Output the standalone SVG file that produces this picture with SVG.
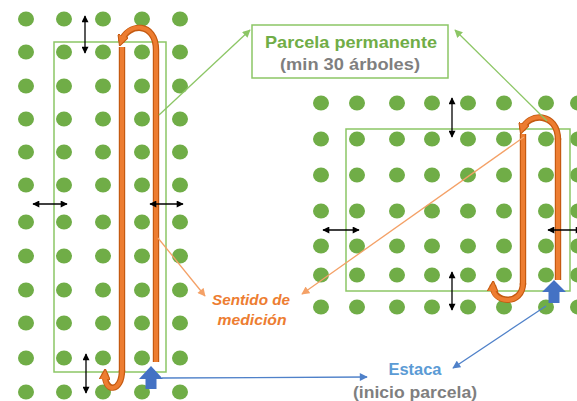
<svg xmlns="http://www.w3.org/2000/svg" width="577" height="401" viewBox="0 0 577 401">
<style>
.dot{fill:#70AD47}
.plot{fill:none;stroke:#8CC665;stroke-width:1.5}
.thick{fill:none;stroke:#C55A11;stroke-width:6.4}
.thickin{fill:none;stroke:#ED7D31;stroke-width:4}
.dim{stroke:#000;stroke-width:1.3;marker-start:url(#blk);marker-end:url(#blk)}
.gline{stroke:#8CC665;stroke-width:1.3;fill:none;marker-end:url(#gah)}
.oline{stroke:#F4A167;stroke-width:1.3;fill:none;marker-end:url(#oah)}
.bline{stroke:#4F81C9;stroke-width:1.3;fill:none;marker-end:url(#bah)}
.t{font-family:"Liberation Sans",Arial,sans-serif;font-weight:bold;text-anchor:middle}
</style>
<defs>
<marker id="blk" viewBox="0 0 10 10" refX="9" refY="5" markerWidth="8" markerHeight="7" orient="auto-start-reverse" markerUnits="userSpaceOnUse"><path d="M0,0 L10,5 L0,10 z" fill="#000"/></marker>
<marker id="gah" viewBox="0 0 10 10" refX="9" refY="5" markerWidth="9" markerHeight="8" orient="auto" markerUnits="userSpaceOnUse"><path d="M0,0 L10,5 L0,10 z" fill="#8CC665"/></marker>
<marker id="oah" viewBox="0 0 10 10" refX="9" refY="5" markerWidth="9" markerHeight="8" orient="auto" markerUnits="userSpaceOnUse"><path d="M0,0 L10,5 L0,10 z" fill="#F4A167"/></marker>
<marker id="bah" viewBox="0 0 10 10" refX="9" refY="5" markerWidth="9" markerHeight="8" orient="auto" markerUnits="userSpaceOnUse"><path d="M0,0 L10,5 L0,10 z" fill="#4F81C9"/></marker>
<marker id="oth" viewBox="0 0 10 10" refX="6" refY="5" markerWidth="11" markerHeight="11" orient="auto" markerUnits="userSpaceOnUse"><path d="M0,0 L10,5 L0,10 z" fill="#ED7D31" stroke="#C55A11" stroke-width="1"/></marker>
<ellipse id="d" rx="8" ry="7.6"/>
</defs>
<rect width="577" height="401" fill="#fff"/>

<g id="grid-left" class="dot">
<use href="#d" x="26" y="19"/><use href="#d" x="64" y="19"/><use href="#d" x="103" y="19"/><use href="#d" x="142" y="19"/><use href="#d" x="180" y="19"/>
<use href="#d" x="26" y="52"/><use href="#d" x="64" y="52"/><use href="#d" x="103" y="52"/><use href="#d" x="142" y="52"/><use href="#d" x="180" y="52"/>
<use href="#d" x="26" y="86"/><use href="#d" x="64" y="86"/><use href="#d" x="103" y="86"/><use href="#d" x="142" y="86"/><use href="#d" x="180" y="86"/>
<use href="#d" x="26" y="119"/><use href="#d" x="64" y="119"/><use href="#d" x="103" y="119"/><use href="#d" x="142" y="119"/><use href="#d" x="180" y="119"/>
<use href="#d" x="26" y="152"/><use href="#d" x="64" y="152"/><use href="#d" x="103" y="152"/><use href="#d" x="142" y="152"/><use href="#d" x="180" y="152"/>
<use href="#d" x="26" y="185"/><use href="#d" x="64" y="185"/><use href="#d" x="103" y="185"/><use href="#d" x="142" y="185"/><use href="#d" x="180" y="185"/>
<use href="#d" x="26" y="222"/><use href="#d" x="64" y="222"/><use href="#d" x="103" y="222"/><use href="#d" x="142" y="222"/><use href="#d" x="180" y="222"/>
<use href="#d" x="26" y="256"/><use href="#d" x="64" y="256"/><use href="#d" x="103" y="256"/><use href="#d" x="142" y="256"/><use href="#d" x="180" y="256"/>
<use href="#d" x="26" y="290"/><use href="#d" x="64" y="290"/><use href="#d" x="103" y="290"/><use href="#d" x="142" y="290"/><use href="#d" x="180" y="290"/>
<use href="#d" x="26" y="323"/><use href="#d" x="64" y="323"/><use href="#d" x="103" y="323"/><use href="#d" x="142" y="323"/><use href="#d" x="180" y="323"/>
<use href="#d" x="26" y="358"/><use href="#d" x="64" y="358"/><use href="#d" x="103" y="358"/><use href="#d" x="142" y="358"/><use href="#d" x="180" y="358"/>
<use href="#d" x="26" y="392"/><use href="#d" x="64" y="392"/><use href="#d" x="103" y="392"/><use href="#d" x="142" y="392"/><use href="#d" x="180" y="392"/>
</g>

<g id="grid-right" class="dot">
<use href="#d" x="321" y="103"/><use href="#d" x="357" y="103"/><use href="#d" x="397" y="103"/><use href="#d" x="432" y="103"/><use href="#d" x="468" y="103"/><use href="#d" x="504" y="103"/><use href="#d" x="546" y="103"/><use href="#d" x="578" y="103"/>
<use href="#d" x="321" y="139"/><use href="#d" x="357" y="139"/><use href="#d" x="397" y="139"/><use href="#d" x="432" y="139"/><use href="#d" x="468" y="139"/><use href="#d" x="504" y="139"/><use href="#d" x="546" y="139"/><use href="#d" x="578" y="139"/>
<use href="#d" x="321" y="175"/><use href="#d" x="357" y="175"/><use href="#d" x="397" y="175"/><use href="#d" x="432" y="175"/><use href="#d" x="468" y="175"/><use href="#d" x="504" y="175"/><use href="#d" x="546" y="175"/><use href="#d" x="578" y="175"/>
<use href="#d" x="321" y="211"/><use href="#d" x="357" y="211"/><use href="#d" x="397" y="211"/><use href="#d" x="432" y="211"/><use href="#d" x="468" y="211"/><use href="#d" x="504" y="211"/><use href="#d" x="546" y="211"/><use href="#d" x="578" y="211"/>
<use href="#d" x="321" y="246"/><use href="#d" x="357" y="246"/><use href="#d" x="397" y="246"/><use href="#d" x="432" y="246"/><use href="#d" x="468" y="246"/><use href="#d" x="504" y="246"/><use href="#d" x="546" y="246"/><use href="#d" x="578" y="246"/>
<use href="#d" x="321" y="275"/><use href="#d" x="357" y="275"/><use href="#d" x="397" y="275"/><use href="#d" x="432" y="275"/><use href="#d" x="468" y="275"/><use href="#d" x="504" y="275"/><use href="#d" x="546" y="275"/><use href="#d" x="578" y="275"/>
<use href="#d" x="321" y="307"/><use href="#d" x="357" y="307"/><use href="#d" x="397" y="307"/><use href="#d" x="432" y="307"/><use href="#d" x="468" y="307"/><use href="#d" x="504" y="307"/><use href="#d" x="546" y="307"/><use href="#d" x="578" y="307"/>
</g>

<g id="plot-left">
<rect class="plot" x="54" y="42" width="112" height="330"/>
</g>
<g id="plot-right">
<rect class="plot" x="346" y="129" width="224" height="162"/>
</g>

<g id="path-left">
<path class="thick" d="M156,362 L156,50 M122,47 L122,372"/>
<path class="thickin" d="M156,362 L156,50 M122,47 L122,372"/>
<path class="thick" d="M156,50 C156,22 128,22 121,42" marker-end="url(#oth)"/>
<path class="thickin" d="M156,50 C156,22 128,22 122,40"/>
<path class="thick" d="M122,370 C122,393 104,393 105,373" marker-end="url(#oth)"/>
<path class="thickin" d="M122,370 C122,393 104,393 105,375"/>
</g>
<g id="path-right">
<path class="thick" d="M558,280 L558,138 M523,134 L523,285"/>
<path class="thickin" d="M558,280 L558,138 M523,134 L523,285"/>
<path class="thick" d="M558,140 C558,112 528,112 522,130" marker-end="url(#oth)"/>
<path class="thickin" d="M558,140 C558,112 528,112 523,128"/>
<path class="thick" d="M523,283 C523,306 492,304 493,285" marker-end="url(#oth)"/>
<path class="thickin" d="M523,283 C523,306 492,304 493,287"/>
</g>

<g id="stake-left"><polygon points="151,366 163,379 156.5,379 156.5,389 145.5,389 145.5,379 139,379" fill="#4472C4"/></g>
<g id="stake-right"><polygon points="554,280 566,292 559.5,292 559.5,303 548.5,303 548.5,292 542,292" fill="#4472C4"/></g>

<g id="spacing">
<line class="dim" x1="85" y1="16" x2="85" y2="53"/>
<line class="dim" x1="33" y1="204" x2="67" y2="204"/>
<line class="dim" x1="150" y1="204" x2="183" y2="204"/>
<line class="dim" x1="86" y1="354" x2="86" y2="393"/>
<line class="dim" x1="452" y1="98" x2="452" y2="137"/>
<line class="dim" x1="452" y1="272" x2="452" y2="310"/>
<line class="dim" x1="323" y1="230" x2="359" y2="230"/>
<line class="dim" x1="582" y1="230" x2="548" y2="230"/>
</g>

<g id="connectors">
<line class="gline" x1="159" y1="115" x2="250" y2="30"/>
<line class="gline" x1="547" y1="121" x2="455" y2="30"/>
<line class="oline" x1="158" y1="238" x2="205" y2="296"/>
<line class="oline" x1="524" y1="137" x2="302" y2="294"/>
<line class="bline" x1="162" y1="378" x2="367" y2="377"/>
<line class="bline" x1="546" y1="306" x2="453" y2="368"/>
</g>

<g id="label-parcela">
<rect x="252" y="25" width="196" height="53" fill="#fff" stroke="#8CC665" stroke-width="1.5"/>
<text class="t" x="351" y="48" font-size="17" fill="#70AD47" textLength="172" lengthAdjust="spacingAndGlyphs">Parcela permanente</text>
<text class="t" x="350" y="70" font-size="17" fill="#7F7F7F" textLength="140" lengthAdjust="spacingAndGlyphs">(min 30 árboles)</text>
</g>
<g id="label-sentido">
<text class="t" x="251" y="305" font-size="15" font-style="italic" fill="#ED7D31" textLength="78" lengthAdjust="spacingAndGlyphs">Sentido de</text>
<text class="t" x="252" y="325" font-size="15" font-style="italic" fill="#ED7D31" textLength="69" lengthAdjust="spacingAndGlyphs">medición</text>
</g>
<g id="label-estaca">
<text class="t" x="415" y="375" font-size="16" fill="#5B9BD5" textLength="53" lengthAdjust="spacingAndGlyphs">Estaca</text>
<text class="t" x="415" y="398" font-size="16" fill="#7F7F7F" textLength="124" lengthAdjust="spacingAndGlyphs">(inicio parcela)</text>
</g>
</svg>
